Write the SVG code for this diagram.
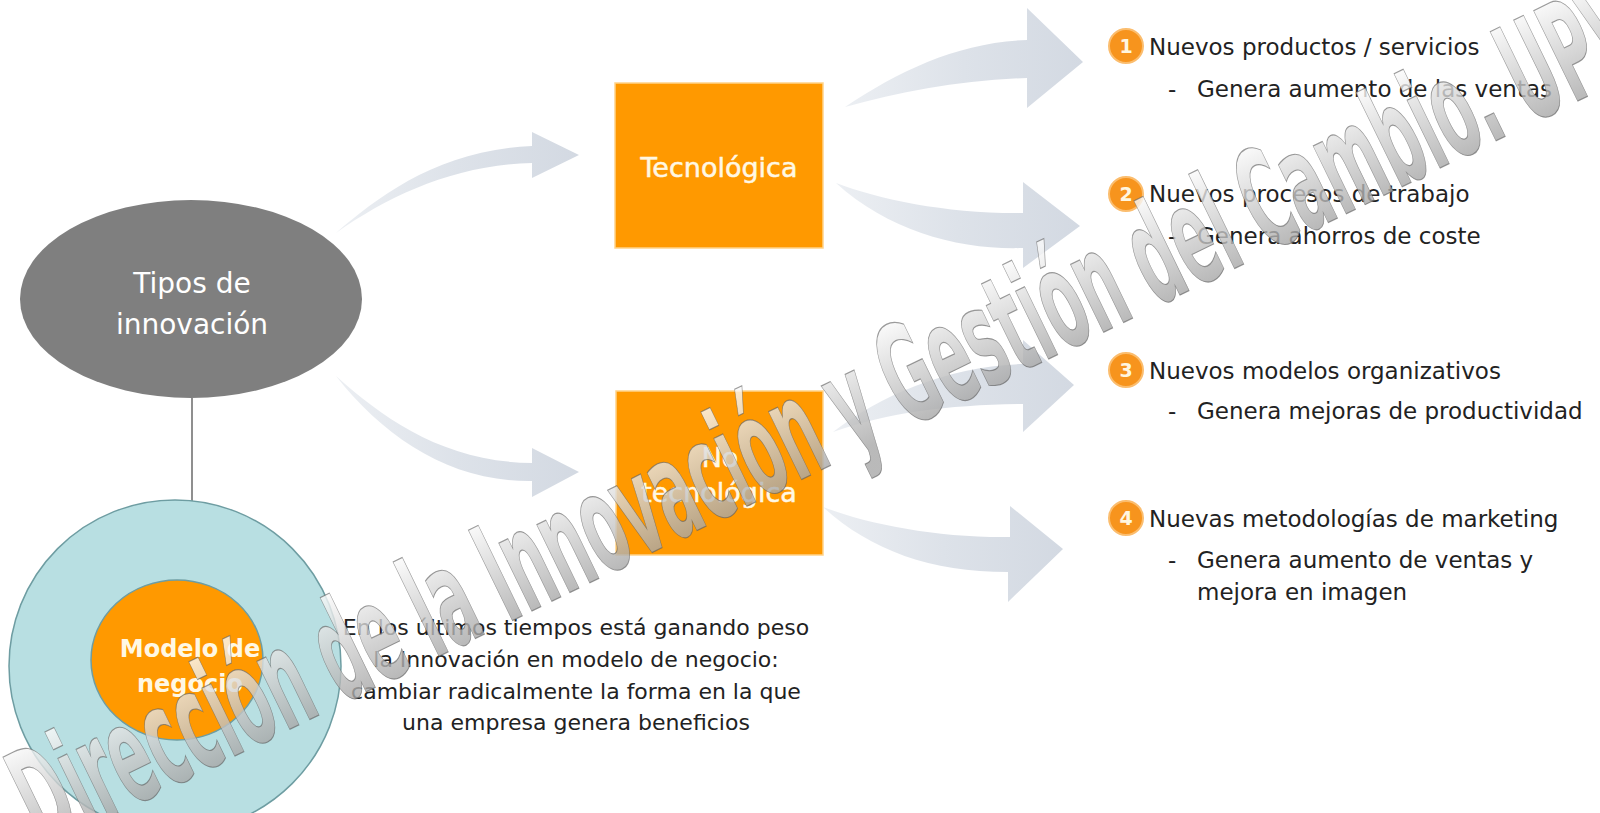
<svg xmlns="http://www.w3.org/2000/svg" width="1600" height="813" viewBox="0 0 1600 813">
<defs>
<linearGradient id="arr" x1="0" y1="0" x2="1" y2="0">
<stop offset="0" stop-color="#eceff3"/>
<stop offset="0.5" stop-color="#dde2e9"/>
<stop offset="1" stop-color="#d3d9e2"/>
</linearGradient>
<linearGradient id="wm" gradientUnits="userSpaceOnUse" x1="0" y1="-105" x2="0" y2="0">
<stop offset="0" stop-color="#fafafa"/>
<stop offset="1" stop-color="#a8a8a8"/>
</linearGradient>
<style>
.arrow{fill:url(#arr);}
.box{fill:#ff9900;stroke:#ffd38a;stroke-width:1.5;}
.boxtxt{font-family:"DejaVu Sans",sans-serif;font-size:27px;fill:#fff8e4;stroke:#fff8e4;stroke-width:0.5;text-anchor:middle;}
.item{font-family:"DejaVu Sans",sans-serif;font-size:23px;fill:#222;}
.para{font-family:"DejaVu Sans",sans-serif;font-size:22px;fill:#222;text-anchor:middle;}
.num{fill:#f7941d;stroke:#fbbd6e;stroke-width:2;}
.numtxt{font-family:"DejaVu Sans",sans-serif;font-size:19px;font-weight:bold;fill:#fff6e0;text-anchor:middle;}
.wm{font-family:"DejaVu Sans",sans-serif;font-weight:bold;font-size:138px;fill:url(#wm);fill-opacity:0.8;stroke:#5a5a5a;stroke-width:1.2;stroke-opacity:0.6;}
</style>
</defs>
<rect width="1600" height="813" fill="#ffffff"/>

<g id="connectors">
<line x1="192" y1="398" x2="192" y2="502" stroke="#8f8f8f" stroke-width="2"/>
<path class="arrow" d="M336,233 C380,195 440,150 532,146 L532,132 L579,155 L532,178 L532,163 C455,165 390,195 336,233 Z"/>
<path class="arrow" d="M336,376 C385,420 445,462 532,463 L532,448 L579,472 L532,497 L532,481 C450,482 385,438 336,376 Z"/>
<path class="arrow" d="M845,107 C900,70 960,42 1027,40 L1027,8 L1083,62 L1027,108 L1027,78 C960,80 900,92 845,107 Z"/>
<path class="arrow" d="M836,183 C880,200 950,214 1023,213 L1023,182 L1080,226 L1023,268 L1023,248 C960,250 890,232 836,183 Z"/>
<path class="arrow" d="M833,432 C880,395 950,366 1023,364 L1023,340 L1074,385 L1023,432 L1023,404 C950,405 890,412 833,432 Z"/>
<path class="arrow" d="M823,507 C870,525 940,538 1010,537 L1010,506 L1063,549 L1008,602 L1008,572 C930,572 870,550 823,507 Z"/>
</g>

<g id="tipos">
<ellipse cx="191" cy="299" rx="171" ry="99" fill="#7f7f7f"/>
<text x="192" y="293" font-family="DejaVu Sans, sans-serif" font-size="28" fill="#ffffff" text-anchor="middle">Tipos de</text>
<text x="192" y="334" font-family="DejaVu Sans, sans-serif" font-size="28" fill="#ffffff" text-anchor="middle">innovación</text>
</g>

<g id="tecnologica">
<rect class="box" x="615" y="83" width="208" height="165"/>
<text class="boxtxt" x="719" y="177">Tecnológica</text>
</g>

<g id="no-tecnologica">
<rect class="box" x="616" y="391" width="207" height="164"/>
<text class="boxtxt" x="720" y="467">No</text>
<text class="boxtxt" x="719" y="502">tecnológica</text>
</g>

<g id="modelo-negocio">
<circle cx="175" cy="666" r="166" fill="#b8dfe2" stroke="#6e9da2" stroke-width="1.5"/>
<ellipse cx="177" cy="660" rx="86" ry="80" fill="#ff9900" stroke="#6e9da2" stroke-width="1.5"/>
<text x="190" y="657" font-family="DejaVu Sans, sans-serif" font-size="24" font-weight="bold" fill="#fff8e4" text-anchor="middle">Modelo de</text>
<text x="190" y="692" font-family="DejaVu Sans, sans-serif" font-size="24" font-weight="bold" fill="#fff8e4" text-anchor="middle">negocio</text>
</g>

<g id="descripcion">
<text class="para" x="576" y="635">En los últimos tiempos está ganando peso</text>
<text class="para" x="576" y="667">la Innovación en modelo de negocio:</text>
<text class="para" x="576" y="699">cambiar radicalmente la forma en la que</text>
<text class="para" x="576" y="730">una empresa genera beneficios</text>
</g>

<g id="item1">
<circle class="num" cx="1126" cy="46" r="17"/>
<text class="numtxt" x="1126" y="53">1</text>
<text class="item" x="1149" y="55">Nuevos productos / servicios</text>
<text class="item" x="1168" y="97">-</text>
<text class="item" x="1197" y="97">Genera aumento de las ventas</text>
</g>

<g id="item2">
<circle class="num" cx="1126" cy="194" r="17"/>
<text class="numtxt" x="1126" y="201">2</text>
<text class="item" x="1149" y="202">Nuevos procesos de trabajo</text>
<text class="item" x="1168" y="244">-</text>
<text class="item" x="1197" y="244">Genera ahorros de coste</text>
</g>

<g id="item3">
<circle class="num" cx="1126" cy="370" r="17"/>
<text class="numtxt" x="1126" y="377">3</text>
<text class="item" x="1149" y="379">Nuevos modelos organizativos</text>
<text class="item" x="1168" y="419">-</text>
<text class="item" x="1197" y="419">Genera mejoras de productividad</text>
</g>

<g id="item4">
<circle class="num" cx="1126" cy="518" r="17"/>
<text class="numtxt" x="1126" y="525">4</text>
<text class="item" x="1149" y="527">Nuevas metodologías de marketing</text>
<text class="item" x="1168" y="568">-</text>
<text class="item" x="1197" y="568">Genera aumento de ventas y</text>
<text class="item" x="1197" y="600">mejora en imagen</text>
</g>

<g id="watermark">
<text class="wm" transform="translate(42,850) rotate(-26) scale(0.43,1)">Dirección de la Innovación y Gestión del Cambio. UPV</text>
</g>
</svg>
